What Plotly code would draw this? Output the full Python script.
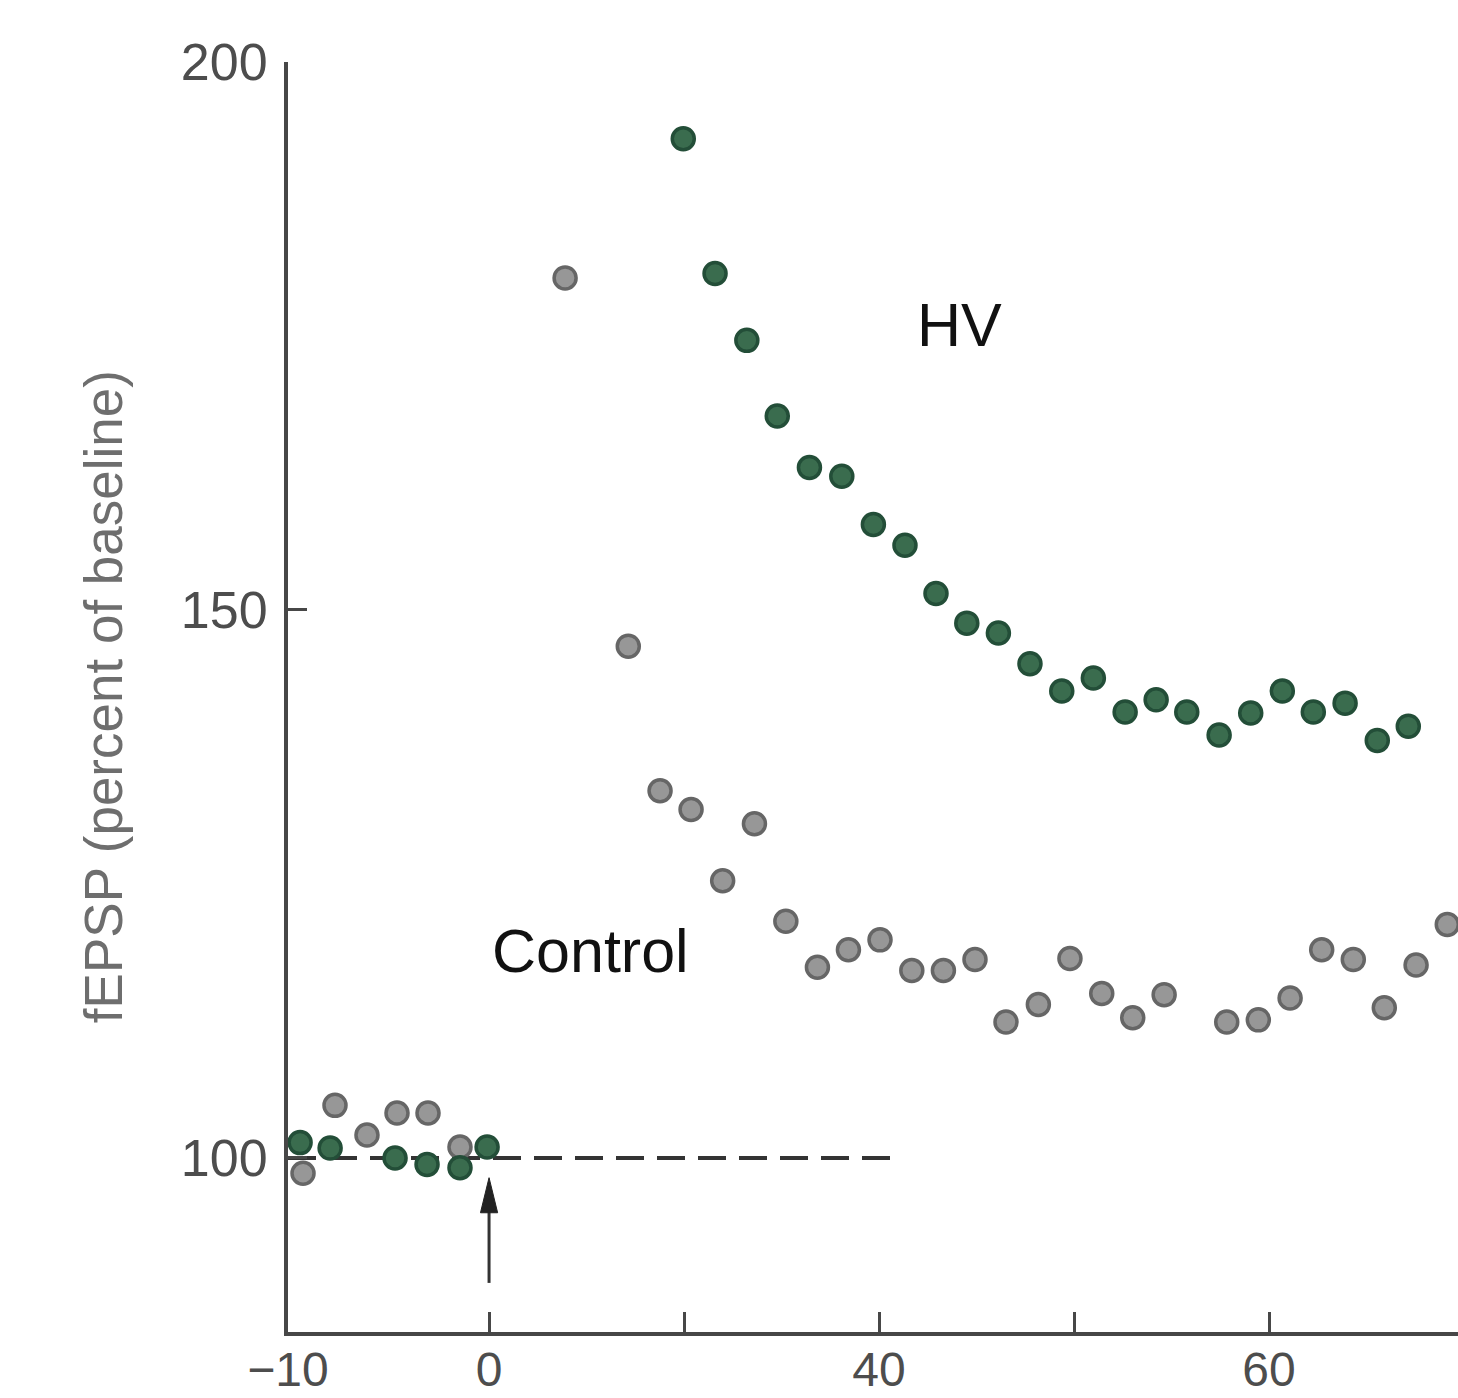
import plotly.graph_objects as go

# ---------------- data ----------------
CTRL_X = [-9.54, -7.90, -6.26, -4.72, -3.13, -1.49,
          3.90, 7.14, 8.77, 10.36, 11.98, 13.61, 15.22, 16.84, 18.43, 20.05,
          21.68, 23.30, 24.92, 26.51, 28.17, 29.79, 31.42, 33.01, 34.62,
          37.83, 39.45, 41.08, 42.70, 44.32, 45.91, 47.54, 49.14]
CTRL_Y = [98.6, 104.8, 102.1, 104.1, 104.1, 101.0,
          180.3, 146.7, 133.5, 131.8, 125.3, 130.5, 121.6, 117.4, 119.0, 119.9,
          117.1, 117.1, 118.1, 112.4, 114.0, 118.2, 115.0, 112.8, 114.9,
          112.4, 112.6, 114.6, 119.0, 118.1, 113.7, 117.6, 121.3]

HV_X = [-9.69, -8.15, -4.82, -3.18, -1.49, -0.10,
        9.96, 11.59, 13.22, 14.78, 16.43, 18.09, 19.71, 21.33, 22.92, 24.50,
        26.12, 27.74, 29.37, 30.99, 32.62, 34.21, 35.78, 37.44, 39.06, 40.68,
        42.27, 43.90, 45.55, 47.14]
HV_Y = [101.4, 100.9, 100.0, 99.4, 99.1, 101.0,
        193.0, 180.7, 174.6, 167.7, 163.0, 162.2, 157.8, 155.9, 151.5, 148.8,
        147.9, 145.1, 142.6, 143.8, 140.7, 141.8, 140.7, 138.6, 140.6, 142.6,
        140.7, 141.5, 138.1, 139.4]

X_TICK_POS = [-10.31, 0, 10, 20, 30, 40]
X_TICK_LABELS = ["\u221210", "0", "", "40", "", "60"]
Y_TICK_POS = [100, 150, 200]
Y_TICK_LABELS = ["100", "150", "200"]

X_RANGE = [-10.31, 49.69]
Y_RANGE = [84.12, 200]

BASELINE = 100
DASH_START = -10.31
DASH_END = 21.2
STIM_X = 0
ARROW_TAIL = 88.6
ARROW_TIP = 98.2
ARROW_BASE = 95.0
ARROW_HALF_W = 0.44

Y_TITLE = "fEPSP (percent of baseline)"
HV_LABEL = ("HV", 24.15, 176.0)
CTRL_LABEL = ("Control", 5.18, 118.9)

# ---------------- figure ----------------
AXIS_COLOR = "#474747"
TICK_FONT = dict(family="Liberation Sans, Arial", size=52, color="#4d4d4d")
XTICK_FONT = dict(family="Liberation Sans, Arial", size=48, color="#4d4d4d")

fig = go.Figure()

fig.add_trace(go.Scatter(
    x=CTRL_X, y=CTRL_Y, mode="markers", name="Control",
    marker=dict(size=22, color="#979797", line=dict(color="#666666", width=3.5)),
    cliponaxis=False, showlegend=False))

fig.add_trace(go.Scatter(
    x=HV_X, y=HV_Y, mode="markers", name="HV",
    marker=dict(size=22, color="#3a6c4e", line=dict(color="#234e38", width=3.5)),
    cliponaxis=False, showlegend=False))

shapes = [
    dict(type="line", xref="x", yref="y", x0=DASH_START, x1=DASH_END,
         y0=BASELINE, y1=BASELINE, layer="below",
         line=dict(color="#333333", width=4, dash="28px,13px")),
    dict(type="line", xref="x", yref="y", x0=STIM_X, x1=STIM_X,
         y0=ARROW_TAIL, y1=ARROW_BASE + 0.5,
         line=dict(color="#333333", width=3)),
    dict(type="path", xref="x", yref="y",
         path=(f"M {STIM_X - ARROW_HALF_W},{ARROW_BASE} L {STIM_X},{ARROW_TIP} "
               f"L {STIM_X + ARROW_HALF_W},{ARROW_BASE} Z"),
         fillcolor="#222222", line=dict(color="#222222", width=1)),
]

annotations = [
    dict(text=Y_TITLE, xref="paper", yref="paper", x=-0.158, y=0.5,
         textangle=-90, showarrow=False, xanchor="center", yanchor="middle",
         font=dict(family="Liberation Sans, Arial", size=53, color="#6e6e6e")),
]
for txt, lx, ly in (HV_LABEL, CTRL_LABEL):
    annotations.append(dict(text=txt, x=lx, y=ly, xref="x", yref="y",
                            showarrow=False, xanchor="center", yanchor="middle",
                            font=dict(family="Liberation Sans, Arial", size=61, color="#111111")))

fig.update_layout(
    width=1458, height=1398,
    margin=dict(l=288, r=0, t=62, b=66),
    paper_bgcolor="white", plot_bgcolor="white",
    shapes=shapes, annotations=annotations,
    xaxis=dict(range=X_RANGE, tickvals=X_TICK_POS, ticktext=X_TICK_LABELS,
               showgrid=False, zeroline=False, showline=True, automargin=False,
               linecolor=AXIS_COLOR, linewidth=4,
               ticks="inside", ticklen=20, tickwidth=3, tickcolor=AXIS_COLOR,
               tickfont=XTICK_FONT, ticklabelstandoff=-8),
    yaxis=dict(range=Y_RANGE, tickvals=Y_TICK_POS, ticktext=Y_TICK_LABELS,
               showgrid=False, zeroline=False, showline=True, automargin=False,
               linecolor=AXIS_COLOR, linewidth=4,
               ticks="inside", ticklen=19, tickwidth=3, tickcolor=AXIS_COLOR,
               tickfont=TICK_FONT, ticklabelstandoff=6),
)

fig.write_html("out.html")
